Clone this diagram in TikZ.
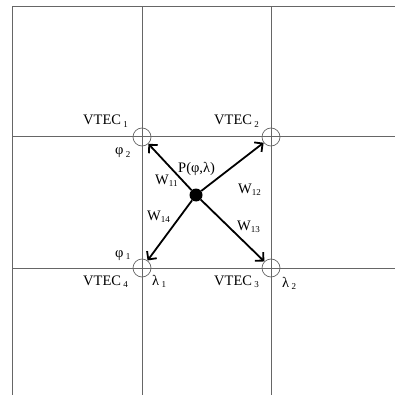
\documentclass[tikz,border=0pt]{standalone}
\usepackage{fontspec}
\setmainfont{Liberation Serif}
\usetikzlibrary{arrows.meta,positioning}
\newcommand\lowidx[1]{\raisebox{-0.4ex}{\fontsize{9}{10}\selectfont#1}}
\begin{document}
\begin{tikzpicture}[x=1pt,y=-1pt,every node/.style={font=\fontsize{14.5}{16}\selectfont,inner sep=0pt},
  gridline/.style={draw=black!60,line width=1pt},
  knot/.style={circle,draw=black!60,line width=0.7pt,minimum size=18pt},
  wt/.style={-{Straight Barb[length=6pt,width=12pt]},line width=1.8pt}]
\useasboundingbox (0,0) rectangle (395,395);
\foreach \x in {12,142,271} \draw[gridline] (\x,7)--(\x,395);
\foreach \y in {7,137,268} \draw[gridline] (12,\y)--(395,\y);
\node[knot](v1) at (142,137){};\node[knot](v2) at (271,137){};
\node[knot](v3) at (271,268){};\node[knot](v4) at (142,268){};
\node[circle,fill=black,minimum size=13pt](p) at (196,195){};
\draw[wt](p)--(v1);\draw[wt](p)--(v2);\draw[wt](p)--(v3);\draw[wt](p)--(v4);
\node[anchor=base west](t1) at (83,125){VTEC\,\lowidx{1}};
\node[anchor=base west](t2) at (214,125){VTEC\,\lowidx{2}};
\node[anchor=base west](t3) at (214,285){VTEC\,\lowidx{3}};
\node[anchor=base west](t4) at (83,285){VTEC\,\lowidx{4}};
\node[anchor=base west](f2) at (115,155){φ\,\lowidx{2}};
\node[anchor=base west](f1) at (115,257){φ\,\lowidx{1}};
\node[anchor=base west](l1) at (152,285){λ\,\lowidx{1}};
\node[anchor=base west](l2) at (282,287){λ\,\lowidx{2}};
\node[anchor=base west](pl) at (178,172){P(φ,λ)};
\node[anchor=base west](w11) at (155,184){W\lowidx{11}};
\node[anchor=base west](w12) at (238,193){W\lowidx{12}};
\node[anchor=base west](w13) at (237,230){W\lowidx{13}};
\node[anchor=base west](w14) at (147,220){W\lowidx{14}};
\end{tikzpicture}
\end{document}
